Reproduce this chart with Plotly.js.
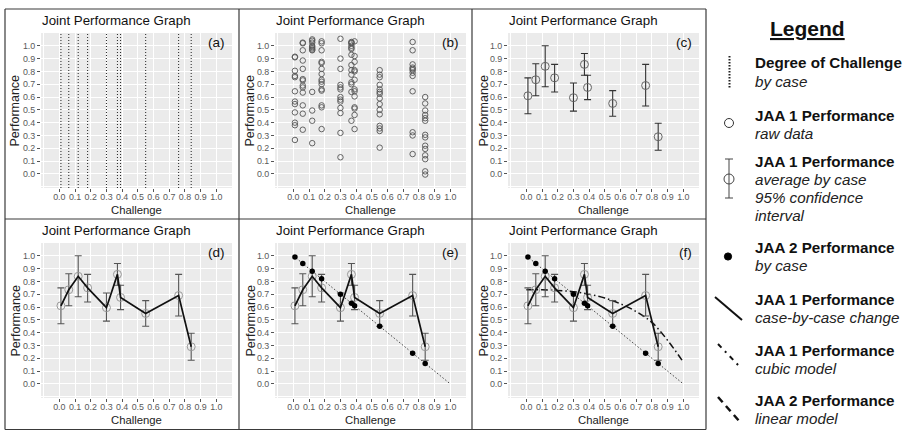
<!DOCTYPE html>
<html><head><meta charset="utf-8">
<script src="https://cdn.plot.ly/plotly-3.0.1.min.js"></script>
<style>html,body{margin:0;padding:0;background:#fff;}#chart{width:907px;height:430px;}</style>
</head><body><div id="chart"></div>
<script>
// ---------------- data ----------------
const challenge = [0.01, 0.06, 0.12, 0.18, 0.30, 0.37, 0.39, 0.55, 0.76, 0.84];
const jaa1Mean = [0.61, 0.735, 0.84, 0.75, 0.595, 0.855, 0.675, 0.55, 0.69, 0.29];
const jaa1Lo   = [0.47, 0.61, 0.68, 0.64, 0.49, 0.77, 0.58, 0.45, 0.53, 0.185];
const jaa1Hi   = [0.75, 0.86, 1.00, 0.855, 0.71, 0.94, 0.77, 0.65, 0.855, 0.395];
const jaa2Perf = [0.99, 0.94, 0.88, 0.82, 0.70, 0.63, 0.61, 0.45, 0.24, 0.16];
const rawPerformance = [
  [0.915, 0.91, 0.805, 0.765, 0.755, 0.645, 0.565, 0.545, 0.48, 0.40, 0.38, 0.265],
  [1.025, 1.02, 0.965, 0.885, 0.82, 0.74, 0.73, 0.69, 0.675, 0.635, 0.535, 0.47, 0.345],
  [1.05, 1.04, 1.025, 1.0, 0.99, 0.98, 0.97, 0.965, 0.64, 0.495, 0.415, 0.24],
  [1.035, 1.02, 0.965, 0.875, 0.865, 0.82, 0.78, 0.735, 0.72, 0.70, 0.66, 0.65, 0.535, 0.52, 0.35],
  [1.055, 0.90, 0.82, 0.695, 0.675, 0.66, 0.60, 0.58, 0.565, 0.515, 0.475, 0.32, 0.13],
  [1.03, 1.025, 1.02, 1.0, 0.985, 0.975, 0.93, 0.85, 0.81, 0.775, 0.715, 0.70, 0.64, 0.415],
  [1.035, 0.92, 0.875, 0.81, 0.80, 0.735, 0.66, 0.645, 0.605, 0.52, 0.51, 0.46, 0.35],
  [0.81, 0.775, 0.755, 0.695, 0.66, 0.64, 0.625, 0.59, 0.545, 0.50, 0.465, 0.375, 0.355, 0.335, 0.205],
  [1.03, 0.965, 0.855, 0.83, 0.82, 0.81, 0.79, 0.765, 0.645, 0.325, 0.30, 0.155],
  [0.60, 0.55, 0.495, 0.46, 0.435, 0.415, 0.305, 0.285, 0.22, 0.195, 0.145, 0.115, 0.02, -0.005]
];
const linearModelX = [0, 1];
const linearModelY = [1, 0];
const cubicModelX = [0, 0.1, 0.2, 0.3, 0.4, 0.5, 0.6, 0.7, 0.8, 0.9, 1.0];
const cubicModelY = [0.735, 0.735, 0.73, 0.72, 0.70, 0.67, 0.625, 0.565, 0.48, 0.34, 0.17];
const tickVals = [0, 0.1, 0.2, 0.3, 0.4, 0.5, 0.6, 0.7, 0.8, 0.9, 1.0];
const tickText = ['0.0','0.1','0.2','0.3','0.4','0.5','0.6','0.7','0.8','0.9','1.0'];
const panelLabels = ['(a)','(b)','(c)','(d)','(e)','(f)'];
const panelTitle = 'Joint Performance Graph';

// ---------------- layout helpers ----------------
const W = 907, H = 430;
const fx = p => p / W, fy = p => 1 - p / H;
const FONT = '"Liberation Sans", Arial, Helvetica, sans-serif';
const cols = [[41, 232], [275, 466], [508, 699]];
const rows = [[33, 188], [243, 398]];
const perfX = [[15, 250, 484], [15, 250, 483]];

const layout = {
  width: W, height: H, margin: {l: 0, r: 0, t: 0, b: 0},
  paper_bgcolor: '#fff', plot_bgcolor: '#EBEBEB', showlegend: false,
  font: {family: FONT}, shapes: [], annotations: []
};

function sfx(i) { return i === 0 ? '' : String(i + 1); }

for (let i = 0; i < 6; i++) {
  const r = Math.floor(i / 3), c = i % 3, s = sfx(i);
  const common = {
    tickvals: tickVals, ticktext: tickText, ticks: 'outside', ticklen: 3, tickwidth: 1,
    tickcolor: '#555', tickfont: {size: 8.9, color: '#5a5a5a', family: FONT},
    showgrid: true, gridcolor: '#ffffff', gridwidth: 1, zeroline: false, showline: false,
    fixedrange: true,
    minor: {tickvals: [-0.1, 1.1], showgrid: true, gridcolor: '#ffffff', gridwidth: 1, ticks: ''}
  };
  layout['xaxis' + s] = Object.assign({}, common, {
    domain: [fx(cols[c][0]), fx(cols[c][1])], anchor: 'y' + s, range: [-0.117, 1.10],
    ticklabelstandoff: -3
  });
  layout['yaxis' + s] = Object.assign({}, common, {
    domain: [fy(rows[r][1]), fy(rows[r][0])], anchor: 'x' + s, range: [-0.11, 1.10]
  });
  layout.annotations.push({text: panelTitle, xref: 'paper', yref: 'paper',
    x: fx(cols[c][0] - 1), y: fy(rows[r][0] - 12.5), xanchor: 'left', yanchor: 'middle',
    showarrow: false, font: {size: 13.3, color: '#111'}});
  layout.annotations.push({text: 'Challenge', xref: 'paper', yref: 'paper',
    x: fx((cols[c][0] + cols[c][1]) / 2), y: fy(rows[r][1] + 21.5), xanchor: 'center', yanchor: 'middle',
    showarrow: false, font: {size: 11.3, color: '#222'}});
  layout.annotations.push({text: 'Performance', xref: 'paper', yref: 'paper', textangle: -90,
    x: fx(perfX[r][c]), y: fy((rows[r][0] + rows[r][1]) / 2),
    xanchor: 'center', yanchor: 'middle', showarrow: false, font: {size: 12.5, color: '#222'}});
  layout.annotations.push({text: panelLabels[i], xref: 'x' + s, yref: 'y' + s, x: 1.07, y: 1.028,
    xanchor: 'right', yanchor: 'middle', showarrow: false, font: {size: 13.5, color: '#111'}});
}

// panel (a): degree of challenge dotted lines
challenge.forEach(v => {
  layout.shapes.push({type: 'line', xref: 'x', yref: 'y domain', x0: v, x1: v, y0: 0, y1: 1,
    line: {color: '#222', width: 1, dash: '1px,2px'}});
});

// borders
[5, 239, 472, 706].forEach(x => layout.shapes.push({type: 'line', xref: 'paper', yref: 'paper',
  x0: fx(x), x1: fx(x), y0: fy(9), y1: fy(429.5), line: {color: '#3a3a3a', width: 1.2}}));
[9, 219, 429.5].forEach(y => layout.shapes.push({type: 'line', xref: 'paper', yref: 'paper',
  x0: fx(5), x1: fx(706), y0: fy(y), y1: fy(y), line: {color: '#3a3a3a', width: 1.2}}));

// ---------------- traces ----------------
const traces = [];
const rawX = [], rawY = [];
rawPerformance.forEach((arr, k) => arr.forEach(v => { rawX.push(challenge[k]); rawY.push(v); }));
traces.push({x: rawX, y: rawY, xaxis: 'x2', yaxis: 'y2', mode: 'markers', type: 'scatter',
  marker: {symbol: 'circle-open', size: 5.5, color: '#555', line: {width: 0.9}}, hoverinfo: 'skip'});

const errPlus = jaa1Hi.map((h, k) => h - jaa1Mean[k]);
const errMinus = jaa1Lo.map((l, k) => jaa1Mean[k] - l);

function meanTrace(s, mcol, ecol) {
  return {x: challenge, y: jaa1Mean, xaxis: 'x' + s, yaxis: 'y' + s, mode: 'markers', type: 'scatter',
    marker: {symbol: 'circle-open', size: 8, color: mcol, line: {width: 1}},
    error_y: {type: 'data', symmetric: false, array: errPlus, arrayminus: errMinus,
      color: ecol, thickness: 1.1, width: 3.5}, hoverinfo: 'skip'};
}
function changeLine(s) {
  return {x: challenge, y: jaa1Mean, xaxis: 'x' + s, yaxis: 'y' + s, mode: 'lines', type: 'scatter',
    line: {color: '#111', width: 1.7}, hoverinfo: 'skip'};
}
function linearLine(s) {
  return {x: linearModelX, y: linearModelY, xaxis: 'x' + s, yaxis: 'y' + s, mode: 'lines', type: 'scatter',
    line: {color: '#444', width: 1, dash: '1.5px,2px'}, hoverinfo: 'skip'};
}
function jaa2Points(s) {
  return {x: challenge, y: jaa2Perf, xaxis: 'x' + s, yaxis: 'y' + s, mode: 'markers', type: 'scatter',
    marker: {symbol: 'circle', size: 5.5, color: '#000'}, hoverinfo: 'skip'};
}

traces.push(meanTrace('3', '#666', '#333'));
traces.push(meanTrace('4', '#999', '#555'));
traces.push(changeLine('4'));
traces.push(linearLine('5'));
traces.push(meanTrace('5', '#999', '#555'));
traces.push(changeLine('5'));
traces.push(jaa2Points('5'));
traces.push(linearLine('6'));
traces.push({x: cubicModelX, y: cubicModelY, xaxis: 'x6', yaxis: 'y6', mode: 'lines', type: 'scatter',
  line: {color: '#111', width: 1.5, dash: '7px,3px,1.5px,3px', shape: 'spline'}, hoverinfo: 'skip'});
traces.push(meanTrace('6', '#999', '#555'));
traces.push(changeLine('6'));
traces.push(jaa2Points('6'));

// ---------------- legend (drawn) ----------------
const LX = 753;
layout.annotations.push({text: '<b><u>Legend</u></b>', xref: 'paper', yref: 'paper', x: fx(807.5), y: fy(29),
  xanchor: 'center', yanchor: 'middle', showarrow: false, font: {size: 21, color: '#111'}});
const legendLines = [
  ['Degree of Challenge', 63, 'b'], ['by case', 81.7, 'i'],
  ['JAA 1 Performance', 115, 'b'], ['raw data', 133, 'i'],
  ['JAA 1 Performance', 161, 'b'], ['average by case', 179, 'i'], ['95% confidence', 197, 'i'], ['interval', 215.5, 'i'],
  ['JAA 2 Performance', 247, 'b'], ['by case', 265, 'i'],
  ['JAA 1 Performance', 299, 'b'], ['case-by-case change', 317, 'i'],
  ['JAA 1 Performance', 350, 'b'], ['cubic model', 368, 'i'],
  ['JAA 2 Performance', 400.5, 'b'], ['linear model', 418, 'i']
];
legendLines.forEach(([t, y, st]) => layout.annotations.push({
  text: st === 'b' ? '<b>' + t + '</b>' : '<i>' + t + '</i>', xref: 'paper', yref: 'paper',
  x: fx(LX), y: fy(y), xanchor: 'left', yanchor: 'middle', showarrow: false,
  font: {size: 15.2, color: st === 'b' ? '#111' : '#222'}}));

function pl(x0, y0, x1, y1, line) {
  layout.shapes.push({type: 'line', xref: 'paper', yref: 'paper', x0: fx(x0), y0: fy(y0), x1: fx(x1), y1: fy(y1), line});
}
function pc(cx, cy, r, line, fill) {
  layout.shapes.push({type: 'circle', xref: 'paper', yref: 'paper', x0: fx(cx - r), x1: fx(cx + r),
    y0: fy(cy + r), y1: fy(cy - r), line, fillcolor: fill || 'rgba(0,0,0,0)'});
}
pl(729.5, 56, 729.5, 88, {color: '#222', width: 2, dash: '1.5px,1.5px'});
pc(729, 123, 4.5, {color: '#333', width: 1});
pl(729, 159, 729, 198, {color: '#444', width: 1});
pl(725, 159, 733, 159, {color: '#444', width: 1});
pl(725, 198, 733, 198, {color: '#444', width: 1});
pc(729, 179, 5, {color: '#444', width: 1});
pc(728, 256.5, 3.6, {color: '#000', width: 1}, '#000');
pl(715, 297, 742, 320, {color: '#111', width: 2});
pl(718, 344, 740, 367, {color: '#111', width: 2, dash: '5px,5px,2px,5px'});
pl(718, 397, 740, 422, {color: '#111', width: 2.5, dash: '7px,5px'});

Plotly.newPlot('chart', traces, layout, {staticPlot: true, displayModeBar: false});
</script>
</body></html>
